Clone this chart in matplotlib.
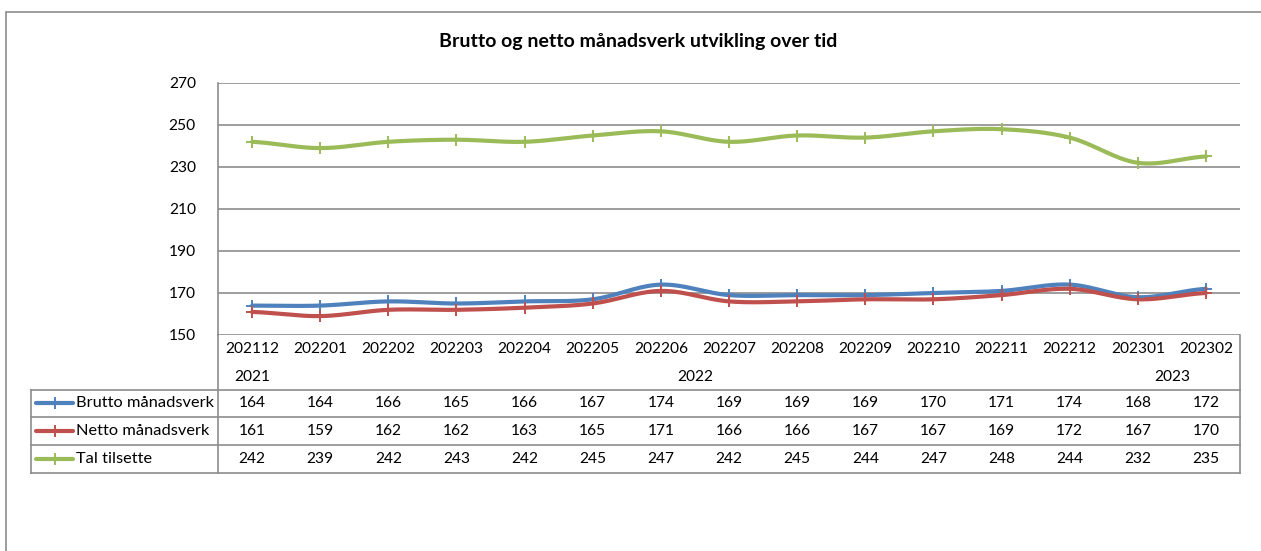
import numpy as np
import matplotlib
matplotlib.use("Agg")
import matplotlib.pyplot as plt
from matplotlib.lines import Line2D
from matplotlib.patches import Rectangle

plt.rcParams['font.family'] = ['Lato', 'DejaVu Sans']

# Data
periods = ['202112', '202201', '202202', '202203', '202204', '202205', '202206',
           '202207', '202208', '202209', '202210', '202211', '202212', '202301', '202302']
years = ['2021', '2022', '2023']
year_pos = [0, 6.5, 13.5]
brutto = [164, 164, 166, 165, 166, 167, 174, 169, 169, 169, 170, 171, 174, 168, 172]
netto = [161, 159, 162, 162, 163, 165, 171, 166, 166, 167, 167, 169, 172, 167, 170]
tilsette = [242, 239, 242, 243, 242, 245, 247, 242, 245, 244, 247, 248, 244, 232, 235]
series_names = ['Brutto månadsverk', 'Netto månadsverk', 'Tal tilsette']
series_vals = [brutto, netto, tilsette]
colors = ['#4F81BD', '#C0504D', '#9BBB59']
title = 'Brutto og netto månadsverk utvikling over tid'


def smooth(x, y, n=30):
    # Catmull-Rom style smoothing, similar to Excel's smoothed line
    x = np.asarray(x, float)
    y = np.asarray(y, float)
    px = np.concatenate([[2 * x[0] - x[1]], x, [2 * x[-1] - x[-2]]])
    py = np.concatenate([[y[0]], y, [y[-1]]])
    xs, ys = [], []
    t = np.linspace(0, 1, n, endpoint=False)
    for i in range(1, len(px) - 2):
        p0, p1, p2, p3 = py[i - 1], py[i], py[i + 1], py[i + 2]
        q0, q1, q2, q3 = px[i - 1], px[i], px[i + 1], px[i + 2]
        for arr, a0, a1, a2, a3 in ((xs, q0, q1, q2, q3), (ys, p0, p1, p2, p3)):
            arr.extend(0.5 * ((2 * a1) + (-a0 + a2) * t
                              + (2 * a0 - 5 * a1 + 4 * a2 - a3) * t ** 2
                              + (-a0 + 3 * a1 - 3 * a2 + a3) * t ** 3))
    xs.append(x[-1])
    ys.append(y[-1])
    return np.array(xs), np.array(ys)


W, H = 1261, 551
fig = plt.figure(figsize=(W / 100, H / 100), dpi=100)

def fx(px):
    return px / W

def fy(py):
    return 1 - py / H

grid_c = '#8C8C8C'
fs = 11.2

# outer chart border
fig.add_artist(Rectangle((fx(6), fy(560)), fx(1270) - fx(6), fy(12) - fy(560),
                         transform=fig.transFigure, fill=False, ec=grid_c, lw=1.2))

left, right, top, bottom = 218, 1240, 83, 335
ax = fig.add_axes([fx(left), fy(bottom), fx(right) - fx(left), fy(top) - fy(bottom)])
ax.set_xlim(-0.5, len(periods) - 0.5)
ax.set_ylim(150, 270)
ax.set_yticks(np.arange(150, 271, 20))
ax.yaxis.grid(True, color=grid_c, lw=1.2)
ax.set_axisbelow(True)
ax.set_xticks([])
for s in ['top', 'right', 'bottom']:
    ax.spines[s].set_visible(False)
ax.spines['left'].set_color(grid_c)
ax.spines['left'].set_linewidth(1.2)
ax.tick_params(axis='y', length=0, labelsize=fs, pad=16, colors='black')

x = np.arange(len(periods))
for vals, c in zip(series_vals, colors):
    sx, sy = smooth(x, vals)
    ax.plot(sx, sy, color=c, lw=3, solid_capstyle='round', zorder=3)
    ax.plot(x, vals, ls='none', marker='+', ms=8, mew=1.4, color=c, zorder=4)

fig.text(fx(638), fy(42), title, ha='center', va='center', fontsize=14, fontweight='bold')

# data table below the plot
def ay(py):
    return (bottom - py) / (bottom - top)

tr = ax.get_xaxis_transform()
for i, p in enumerate(periods):
    ax.text(i, ay(349), p, transform=tr, ha='center', va='center', fontsize=fs, clip_on=False)
for yl, yp in zip(years, year_pos):
    ax.text(yp, ay(377), yl, transform=tr, ha='center', va='center', fontsize=fs, clip_on=False)

row_lines = [390, 417, 445, 473]
row_mid = [403, 431, 459]
for yy in row_lines:
    fig.add_artist(Line2D([fx(31), fx(right)], [fy(yy), fy(yy)], transform=fig.transFigure,
                          color=grid_c, lw=1.2))
fig.add_artist(Line2D([fx(31), fx(31)], [fy(390), fy(473)], transform=fig.transFigure,
                      color=grid_c, lw=1.2))
fig.add_artist(Line2D([fx(left), fx(left)], [fy(bottom), fy(473)], transform=fig.transFigure,
                      color=grid_c, lw=1.2))
fig.add_artist(Line2D([fx(right), fx(right)], [fy(bottom), fy(473)], transform=fig.transFigure,
                      color=grid_c, lw=1.2))

for name, vals, c, ym in zip(series_names, series_vals, colors, row_mid):
    fig.add_artist(Line2D([fx(36), fx(73)], [fy(ym), fy(ym)], transform=fig.transFigure,
                          color=c, lw=3, solid_capstyle='round'))
    fig.add_artist(Line2D([fx(54.5)], [fy(ym)], transform=fig.transFigure, ls='none',
                          marker='+', ms=8, mew=1.4, color=c))
    fig.text(fx(76), fy(ym), name, ha='left', va='center', fontsize=11.8)
    for i, v in enumerate(vals):
        ax.text(i, ay(ym), str(v), transform=tr, ha='center', va='center',
                fontsize=fs, clip_on=False)

fig.savefig('out.png', dpi=100)
